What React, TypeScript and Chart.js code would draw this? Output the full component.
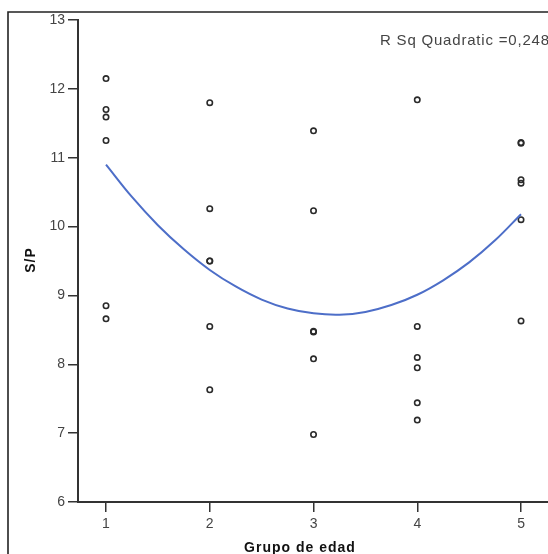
import React, { useEffect, useRef } from "react";
import { Chart, registerables } from "chart.js";

Chart.register(...registerables);

// Data
const grupoX = [1, 2, 3, 4, 5];
const grupo1 = [12.15, 11.7, 11.59, 11.25, 8.85, 8.66];
const grupo2 = [11.8, 10.26, 9.5, 9.5, 8.55, 7.63];
const grupo3 = [11.39, 10.23, 8.48, 8.47, 8.08, 6.98];
const grupo4 = [11.84, 8.55, 8.1, 7.95, 7.44, 7.19];
const grupo5 = [11.22, 11.21, 10.68, 10.63, 10.1, 8.63];
const grupos = [grupo1, grupo2, grupo3, grupo4, grupo5];

// Quadratic fit line
const curveX = [1, 1.25, 1.5, 1.75, 2, 2.25, 2.5, 2.75, 3, 3.25, 3.5, 3.75, 4, 4.25, 4.5, 4.75, 5];
const curveY = [10.9, 10.43, 10.02, 9.67, 9.37, 9.13, 8.94, 8.81, 8.74, 8.72, 8.76, 8.86, 9.01, 9.22, 9.48, 9.8, 10.18];

const xTicks = [1, 2, 3, 4, 5];
const yMin = 6;
const yMax = 13;
const xMin = 0.73;
const xMax = 5.26;

const xTitle = "Grupo de edad";
const yTitle = "S/P";
const fitLabel = "R Sq Quadratic =0,248";

const FONT = 'Arial, "Liberation Sans", sans-serif';
const NARROW = '"Liberation Sans Narrow", "Arial Narrow", Arial, sans-serif';

export default function App() {
  const ref = useRef<HTMLCanvasElement | null>(null);

  useEffect(() => {
    if (!ref.current) return;
    const points: { x: number; y: number }[] = [];
    grupos.forEach((g, i) => g.forEach((v) => points.push({ x: grupoX[i], y: v })));
    const curve = curveX.map((x, i) => ({ x, y: curveY[i] }));

    const textPlugin = {
      id: "texts",
      beforeDraw(chart: any) {
        const ctx = chart.ctx;
        ctx.save();
        ctx.fillStyle = "#ffffff";
        ctx.fillRect(0, 0, chart.width, chart.height);
        ctx.strokeStyle = "#222222";
        ctx.lineWidth = 1.6;
        ctx.beginPath();
        ctx.moveTo(8, chart.height + 2);
        ctx.lineTo(8, 12);
        ctx.lineTo(chart.width + 2, 12);
        ctx.stroke();
        ctx.restore();
      },
      afterDraw(chart: any) {
        const ctx = chart.ctx;
        ctx.save();
        try {
          (ctx as any).letterSpacing = "1px";
        } catch (e) {}
        ctx.fillStyle = "#111111";
        ctx.font = `bold 14px ${FONT}`;
        ctx.textAlign = "center";
        ctx.textBaseline = "alphabetic";
        ctx.fillText(xTitle, 300, 552);
        ctx.save();
        ctx.translate(31, 260);
        ctx.rotate(-Math.PI / 2);
        ctx.textBaseline = "middle";
        ctx.fillText(yTitle, 0, 0);
        ctx.restore();
        try {
          (ctx as any).letterSpacing = "0.8px";
        } catch (e) {}
        ctx.fillStyle = "#444444";
        ctx.font = `15px ${FONT}`;
        ctx.textAlign = "left";
        ctx.textBaseline = "middle";
        ctx.fillText(fitLabel, 380, 41);
        ctx.restore();
      },
    };

    const chart = new Chart(ref.current, {
      type: "scatter",
      data: {
        datasets: [
          {
            type: "line",
            data: curve,
            borderColor: "#4d6ec8",
            borderWidth: 2,
            pointRadius: 0,
            tension: 0.4,
            fill: false,
          } as any,
          {
            type: "scatter",
            data: points,
            pointStyle: "circle",
            pointRadius: 2.7,
            borderColor: "#2a2a2a",
            borderWidth: 1.6,
            backgroundColor: "rgba(255,255,255,0)",
          } as any,
        ],
      },
      options: {
        animation: false,
        responsive: true,
        maintainAspectRatio: false,
        layout: { autoPadding: false, padding: { top: 20, right: 0, left: 0, bottom: 0 } },
        plugins: { legend: { display: false }, tooltip: { enabled: false } },
        scales: {
          x: {
            type: "linear",
            min: xMin,
            max: xMax,
            afterBuildTicks: (s: any) => {
              s.ticks = xTicks.map((v) => ({ value: v }));
            },
            afterFit: (s: any) => {
              s.height = 52;
              s.paddingLeft = 0;
              s.paddingRight = 0;
            },
            grid: {
              drawOnChartArea: false,
              drawTicks: true,
              tickLength: 10,
              color: "#333333",
              lineWidth: 1.5,
            },
            border: { display: true, color: "#333333", width: 2 },
            ticks: {
              color: "#444444",
              font: { family: NARROW, size: 14 },
              padding: 4,
              maxRotation: 0,
            },
          },
          y: {
            type: "linear",
            min: yMin,
            max: yMax,
            afterFit: (s: any) => {
              s.width = 78;
              s.paddingTop = 0;
              s.paddingBottom = 0;
            },
            grid: {
              drawOnChartArea: false,
              drawTicks: true,
              tickLength: 10,
              color: "#333333",
              lineWidth: 1.5,
            },
            border: { display: true, color: "#333333", width: 2 },
            ticks: {
              stepSize: 1,
              color: "#444444",
              font: { family: NARROW, size: 14 },
              padding: 3,
            },
          },
        },
      },
      plugins: [textPlugin],
    });
    return () => chart.destroy();
  }, []);

  return (
    <div style={{ position: "fixed", left: 0, top: 0, width: 548, height: 554 }}>
      <canvas ref={ref} />
    </div>
  );
}
